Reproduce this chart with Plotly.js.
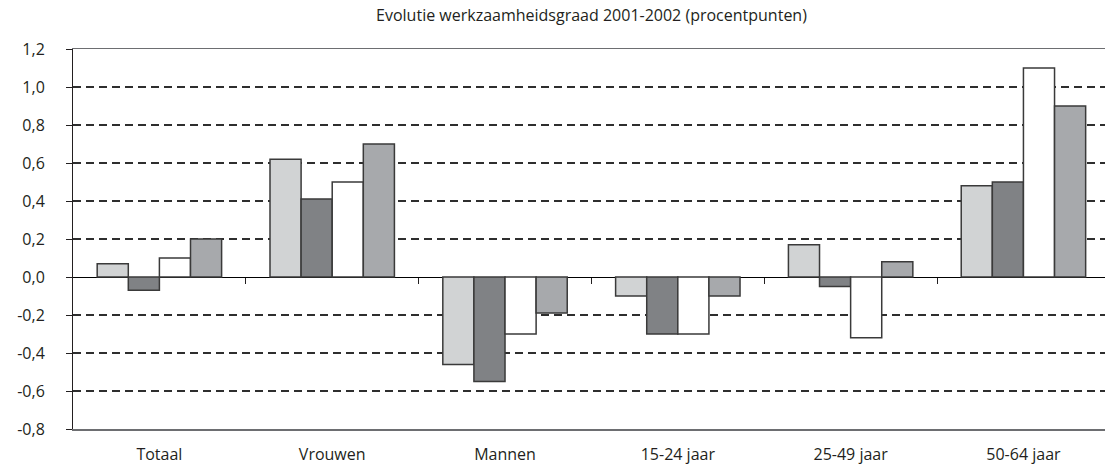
<!DOCTYPE html>
<html>
<head>
<meta charset="utf-8">
<script src="https://cdn.plot.ly/plotly-3.0.1.min.js"></script>
<style>
  html, body { margin: 0; padding: 0; background: #fff; }
  #chart { width: 1105px; height: 467px; }
</style>
</head>
<body>
<div id="chart"></div>
<script>
// Evolutie werkzaamheidsgraad 2001-2002, per groep, vier reeksen
const categories = ['Totaal', 'Vrouwen', 'Mannen', '15-24 jaar', '25-49 jaar', '50-64 jaar'];
const series1 = [0.07, 0.62, -0.46, -0.10, 0.17, 0.48];
const series2 = [-0.07, 0.41, -0.55, -0.30, -0.05, 0.50];
const series3 = [0.10, 0.50, -0.30, -0.30, -0.32, 1.10];
const series4 = [0.20, 0.70, -0.19, -0.10, 0.08, 0.90];

const yTickVals = [-0.8, -0.6, -0.4, -0.2, 0, 0.2, 0.4, 0.6, 0.8, 1.0, 1.2];
const yTickText = ['-0,8', '-0,6', '-0,4', '-0,2', '0,0', '0,2', '0,4', '0,6', '0,8', '1,0', '1,2'];

const fills = ['#d1d3d4', '#808285', '#ffffff', '#a7a9ac'];
const outline = { color: '#3a3a3a', width: 1.5 };
const font = { family: 'Open Sans, sans-serif', size: 16, color: '#231f20' };

const traces = [series1, series2, series3, series4].map((vals, i) => ({
  type: 'bar',
  x: categories,
  y: vals,
  marker: { color: fills[i], line: outline },
  hoverinfo: 'x+y',
  showlegend: false
}));

// chart is cropped on the right: the last category runs a little past the edge
const xRange = [-0.5, 5.472];
const boundaries = categories.slice(1).map((c, i) => i + 0.5);

// helper trace that draws nothing, only so the overlay axis
// (small ticks on the zero line between groups) is rendered
traces.push({
  type: 'scatter',
  mode: 'none',
  x: boundaries,
  y: boundaries.map(() => 0),
  xaxis: 'x2',
  hoverinfo: 'skip',
  showlegend: false
});

const layout = {
  width: 1105,
  height: 467,
  margin: { l: 73, r: 0, t: 49, b: 38 },
  paper_bgcolor: '#fff',
  plot_bgcolor: '#fff',
  font: font,
  barmode: 'group',
  bargap: 0.28,
  bargroupgap: 0,
  title: {
    text: 'Evolutie werkzaamheidsgraad 2001-2002 (procentpunten)',
    font: { family: font.family, size: 16, color: '#231f20' },
    xref: 'paper',
    x: 0.5024,
    xanchor: 'center',
    yref: 'container',
    y: 0.966,
    yanchor: 'middle'
  },
  xaxis: {
    type: 'category',
    range: xRange,
    showline: true,
    linecolor: '#6d6e71',
    linewidth: 1.5,
    mirror: true,
    ticks: '',
    ticklabelstandoff: 10,
    showgrid: false,
    zeroline: false,
    fixedrange: true
  },
  xaxis2: {
    type: 'linear',
    overlaying: 'x',
    anchor: 'free',
    position: 0.4,
    range: xRange,
    tickmode: 'array',
    tickvals: boundaries,
    showticklabels: false,
    ticks: 'outside',
    ticklen: 6,
    tickcolor: '#231f20',
    tickwidth: 1,
    showline: false,
    showgrid: false,
    zeroline: false,
    fixedrange: true
  },
  yaxis: {
    range: [-0.8, 1.2],
    tickvals: yTickVals,
    ticktext: yTickText,
    ticks: 'outside',
    ticklen: 6,
    tickcolor: '#231f20',
    ticklabelstandoff: 18,
    showline: true,
    linecolor: '#231f20',
    linewidth: 1,
    showgrid: true,
    gridcolor: '#2e2e2e',
    gridwidth: 1.2,
    griddash: '8px,5px',
    zeroline: true,
    zerolinecolor: '#000',
    zerolinewidth: 1,
    fixedrange: true
  }
};

Plotly.newPlot('chart', traces, layout, { displayModeBar: false, staticPlot: true });
</script>
</body>
</html>
